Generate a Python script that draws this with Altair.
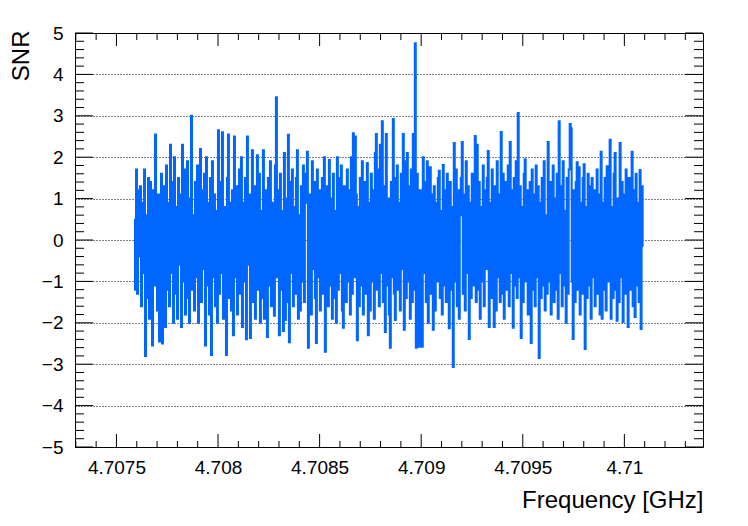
import altair as alt
import pandas as pd

# SNR values, one per screen column (left to right)
SNR = [
    0.5, -1.2, 1.7, -1.3, 1.2, -0.4, 1.3, -1.6, 0.9, -0.8, 1.7, -2.8, 0.6, -1.4, 1.5, -1.9, 1.4, -0.7, -2.55, 1.2,
    -1.1, 2.55, 0.3, -1.7, 1.1, -2.45, 0.7, 1.6, -2.5, 0.4, 1.3, -2.1, 1.8, -1.2, 0.9, -1.6, 2.3, -0.8, 1.4, -2.0,
    2.0, -1.3, 0.8, -1.9, 1.5, -0.6, 1.1, -2.1, 2.3, -1.0, 1.7, -1.8, 0.5, 1.9, -1.4, -2.0, 1.0, 3.0, -1.2, 0.6,
    -1.7, 1.4, -0.9, 1.8, -2.0, 0.4, 2.2, -1.5, 1.2, -0.7, 1.6, -2.55, 2.0, -1.1, 0.9, -1.8, 1.5, -2.78, 1.9, -0.9,
    1.1, -1.6, 0.7, -2.0, 2.65, -1.3, 1.4, -0.8, 2.6, -1.9, 0.8, -1.2, -2.78, 1.5, 2.55, -1.4, 0.9, -1.7, 1.2, -2.3,
    2.5, -0.9, 1.3, -1.8, 0.6, 1.7, -1.3, 2.0, -2.1, 0.9, -1.0, 1.5, -2.4, 2.5, -0.6, 1.1, -2.37, 0.8, 2.17, -1.5,
    1.3, -1.9, 0.5, 2.05, -1.2, 1.6, -2.0, 0.7, -1.4, 2.17, -1.9, 1.2, -0.8, -2.34, 1.5, -1.1, 1.9, -1.6, 0.9, -1.3,
    -1.83, 1.8, 3.45, -0.9, 1.2, -2.3, 1.6, -1.2, 0.7, -2.2, 2.1, -1.93, 1.0, -1.5, 2.54, -2.47, 1.4, -0.8, 1.7, -1.6,
    0.8, -1.3, 1.5, 2.17, -1.9, 0.6, -1.7, 1.3, -1.0, 1.8, -1.5, 0.9, 1.6, 2.13, -2.6, -1.2, 1.1, -1.8, 1.9, -0.7,
    1.4, -1.4, -2.49, 1.7, -0.9, 1.2, -1.7, 0.8, 1.5, -1.3, 2.0, -2.7, 0.6, 1.3, -1.6, 1.93, -1.1, 1.0, -1.9, 1.6,
    -1.4, 0.7, -2.0, 2.0, -1.2, 1.5, -0.8, 1.8, -1.7, -2.12, 1.3, 0.5, -1.5, 1.7, -1.0, 1.2, -1.8, 2.0, -1.3, 2.58,
    -0.9, 2.5, 1.1, -2.42, 0.8, -1.6, 1.5, -1.1, 1.9, -1.8, 0.6, 1.4, -1.3, 1.86, -2.3, 0.9, -1.7, 1.6, -1.0, 1.2,
    -1.9, 2.1, 2.56, -1.2, 1.7, -1.6, 2.3, -0.8, 2.87, -1.5, 1.3, -2.22, 2.56, -1.1, 1.0, -1.8, -2.6, 1.4, -0.9, 2.92,
    -1.3, -1.93, 1.5, 1.8, -1.2, 0.9, -1.7, 1.6, -0.7, 2.56, -2.17, 1.9, -1.4, 2.1, -1.0, 1.3, -1.9, 1.7, -1.5, 2.56,
    -1.2, 4.75, -2.6, 1.6, -1.1, -2.58, 1.2, -1.6, -2.58, 2.0, -0.8, 1.4, -1.5, 1.9, -2.0, 0.8, 1.76, -1.3, 1.1, -2.17,
    1.3, -1.7, 0.9, -1.0, 1.5, 1.67, -1.4, 0.7, -1.8, 1.81, -1.1, 1.2, -1.5, 1.6, -0.9, -2.13, 1.4, -1.2, 0.8, -3.07,
    2.34, -1.0, 1.7, -1.6, 1.2, -1.9, 0.6, 1.5, 2.37, -1.3, 1.1, -1.7, 1.9, -0.8, 1.3, -2.39, 0.9, -1.4, 1.6, -1.1,
    1.0, 2.51, -1.5, 2.3, -1.2, 1.4, -1.9, 0.8, -1.0, 1.8, -1.6, 1.2, -0.7, 1.5, 2.15, -2.1, 0.9, -1.4, 1.7, -1.1,
    -2.1, 1.3, -1.7, 1.9, -0.9, 1.1, -1.5, 2.61, -1.3, 1.6, -1.9, 0.7, 1.4, -1.2, 1.8, -1.6, 2.37, -0.8, 1.2, -2.12,
    1.5, -1.1, 1.9, -1.4, 3.07, -0.9, 1.3, -2.37, 0.8, -1.5, 1.6, 1.95, -1.0, 1.2, -1.8, 0.7, 1.4, -2.49, 1.7, -1.2,
    1.1, -1.6, 1.8, -0.9, 1.3, -2.85, 0.9, -1.4, 1.5, -1.1, 1.9, -1.7, 0.6, -1.3, 2.37, -1.0, 1.4, -1.8, 1.2, 1.8,
    -1.5, 1.0, -1.2, 1.6, -1.9, 2.87, -0.8, 1.3, -1.6, 1.9, -1.1, 0.7, -2.0, 1.5, -1.3, 1.7, 2.8, 2.7, -1.0, -2.39,
    1.2, -1.5, 1.4, 1.88, -1.2, 1.76, -1.8, 0.9, -1.3, 1.5, 1.83, -2.63, 0.8, -1.4, 1.6, -1.1, 1.3, -1.9, 1.5, -0.9,
    1.2, -1.6, 0.7, 1.7, -1.3, 1.1, -1.8, 2.13, -1.9, 0.9, -1.2, 1.5, -1.7, 1.78, -1.0, 1.3, 2.42, -1.9, 0.8, -1.4,
    1.6, 2.1, -1.2, -1.95, 1.0, -1.5, 2.34, -0.9, 1.4, -1.98, 1.1, -1.3, 1.7, -0.8, -2.1, 1.5, -1.2, 1.0, 2.13, -1.6,
    1.2, -1.86, 1.6, -1.1, 0.9, -1.5, 1.69, -2.15, 1.3, -0.15,
]

# frequency bins (GHz): first bin and bin width
F_START = 4.707589
F_STEP = 0.000004918
FREQ = [F_START + i * F_STEP for i in range(len(SNR))]

X_MAJOR_TICKS = [4.7075, 4.708, 4.7085, 4.709, 4.7095, 4.71]
X_ALL_TICKS = [round(4.7073 + i * 0.0001, 4) for i in range(31)]
X_MINOR_TICKS = [v for v in X_ALL_TICKS if v not in X_MAJOR_TICKS]
Y_MAJOR_TICKS = [-5, -4, -3, -2, -1, 0, 1, 2, 3, 4, 5]
Y_ALL_TICKS = [round(-5 + i * 0.2, 1) for i in range(51)]
Y_MINOR_TICKS = [v for v in Y_ALL_TICKS if abs(v - round(v)) > 0.01]
Y_GRID = [-4, -3, -2, -1, 0, 1, 2, 3, 4]
X_DOMAIN = [4.707296, 4.710387]
Y_DOMAIN = [-5, 5]

W, H = 628, 414
FONT = "Liberation Sans"
XMAJ_LEN, XMIN_LEN = 13, 6
YMAJ_LEN, YMIN_LEN = 18, 9

df = pd.DataFrame({"freq": FREQ, "snr": SNR})

xscale = alt.Scale(domain=X_DOMAIN, nice=False, zero=False)
yscale = alt.Scale(domain=Y_DOMAIN, nice=False, zero=False)

# grid layer (horizontal dotted lines at integer SNR)
grid_layer = alt.Chart(df).mark_line(strokeOpacity=0).encode(
    x=alt.X("freq:Q", scale=xscale, axis=None),
    y=alt.Y(
        "snr:Q", scale=yscale,
        axis=alt.Axis(orient="left", values=Y_GRID, grid=True, gridColor="black",
                      gridDash=[1, 2], gridWidth=1, ticks=False, labels=False,
                      domain=False, title=None),
    ),
)

main = alt.Chart(df).mark_line(color="#0066ff", strokeWidth=2, interpolate="step", clip=True).encode(
    x=alt.X(
        "freq:Q", scale=xscale,
        axis=alt.Axis(
            orient="bottom", values=X_MAJOR_TICKS, title="Frequency [GHz]",
            ticks=False, domain=False, grid=False,
            format="~f", labelFont=FONT, labelFontSize=19, labelColor="black", labelPadding=11,
            labelOverlap=False, labelFlush=False,
            titleFont=FONT, titleFontSize=24, titleFontWeight="normal", titleColor="black",
            titleAlign="right", titleBaseline="alphabetic", titleX=W, titleY=60,
        ),
    ),
    y=alt.Y(
        "snr:Q", scale=yscale,
        axis=alt.Axis(
            orient="left", values=Y_MAJOR_TICKS, title="SNR",
            ticks=False, domain=False, grid=False,
            format="d", labelFont=FONT, labelFontSize=19, labelColor="black", labelPadding=12,
            labelOverlap=False, labelFlush=False,
            titleFont=FONT, titleFontSize=24, titleFontWeight="normal", titleColor="black",
            titleAngle=270, titleAlign="right", titleBaseline="alphabetic",
            titleX=-47, titleY=-3,
        ),
    ),
)


def x_ticks(values, y_from, y_to):
    return alt.Chart(pd.DataFrame({"v": values})).mark_rule(color="black", strokeWidth=1).encode(
        x=alt.X("v:Q", scale=xscale, axis=None),
        y=alt.value(y_from),
        y2=alt.value(y_to),
    )


def y_ticks(values, x_from, x_to):
    return alt.Chart(pd.DataFrame({"v": values})).mark_rule(color="black", strokeWidth=1).encode(
        y=alt.Y("v:Q", scale=yscale, axis=None),
        x=alt.value(x_from),
        x2=alt.value(x_to),
    )


tick_layers = [
    x_ticks(X_MAJOR_TICKS, H, H - XMAJ_LEN),
    x_ticks(X_MINOR_TICKS, H, H - XMIN_LEN),
    x_ticks(X_MAJOR_TICKS, 0, XMAJ_LEN),
    x_ticks(X_MINOR_TICKS, 0, XMIN_LEN + 1),
    y_ticks(Y_MAJOR_TICKS, 0, YMAJ_LEN),
    y_ticks(Y_MINOR_TICKS, 0, YMIN_LEN),
    y_ticks(Y_MAJOR_TICKS, W, W - YMAJ_LEN),
    y_ticks(Y_MINOR_TICKS, W, W - YMIN_LEN),
]

chart = (
    alt.layer(grid_layer, main, *tick_layers)
    .resolve_axis(x="independent", y="independent")
    .properties(
        width=W,
        height=H,
        autosize="none",
        padding={"left": 67, "top": 25, "right": 30, "bottom": 72},
        background="white",
    )
    .configure_view(stroke="black", strokeWidth=1)
)

chart.save("out.html", embed_options={"renderer": "svg", "actions": False})
